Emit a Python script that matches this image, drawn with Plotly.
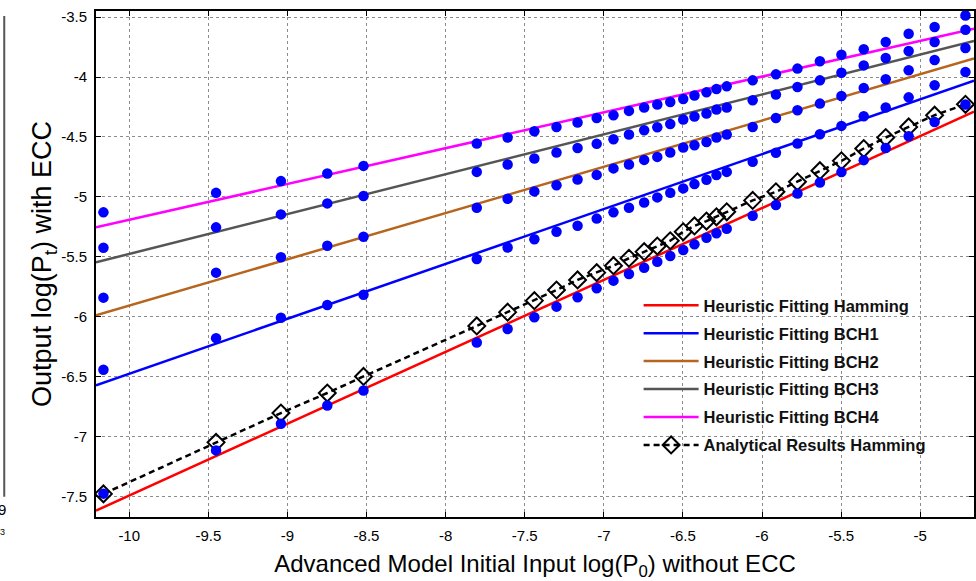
import plotly.graph_objects as go

# ---------------- data ----------------
x_p0 = [-10.163, -9.451, -9.041, -8.748, -8.519, -7.803, -7.608, -7.439, -7.299, -7.166,
        -7.045, -6.939, -6.841, -6.745, -6.662, -6.580, -6.498, -6.427, -6.351, -6.288,
        -6.223, -6.059, -5.912, -5.776, -5.634, -5.498, -5.357, -5.218, -5.073, -4.909, -4.714]

hamming_pts = [-7.478, -7.117, -6.894, -6.742, -6.617, -6.217, -6.103, -6.005, -5.917, -5.838,
               -5.763, -5.700, -5.644, -5.592, -5.542, -5.494, -5.444, -5.397, -5.342, -5.305,
               -5.267, -5.158, -5.069, -4.972, -4.880, -4.794, -4.694, -4.592, -4.494, -4.375, -4.230]
bch1_pts = [-6.444, -6.180, -6.010, -5.903, -5.817, -5.519, -5.423, -5.354, -5.292, -5.242,
            -5.182, -5.130, -5.092, -5.048, -5.005, -4.967, -4.930, -4.894, -4.857, -4.819,
            -4.792, -4.708, -4.633, -4.555, -4.478, -4.408, -4.328, -4.255, -4.170, -4.069, -3.958]
bch2_pts = [-5.842, -5.633, -5.505, -5.408, -5.333, -5.092, -5.017, -4.955, -4.903, -4.855,
            -4.817, -4.763, -4.730, -4.692, -4.667, -4.630, -4.588, -4.569, -4.542, -4.505,
            -4.480, -4.417, -4.342, -4.278, -4.222, -4.158, -4.092, -4.019, -3.944, -3.858, -3.758]
bch3_pts = [-5.425, -5.255, -5.147, -5.055, -4.994, -4.792, -4.730, -4.680, -4.630, -4.592,
            -4.558, -4.519, -4.480, -4.444, -4.419, -4.392, -4.355, -4.330, -4.305, -4.272,
            -4.255, -4.194, -4.147, -4.083, -4.028, -3.964, -3.903, -3.842, -3.783, -3.708, -3.605]
bch4_pts = [-5.130, -4.967, -4.869, -4.805, -4.742, -4.555, -4.505, -4.453, -4.417, -4.380,
            -4.342, -4.319, -4.283, -4.255, -4.230, -4.208, -4.183, -4.155, -4.128, -4.100,
            -4.078, -4.028, -3.978, -3.930, -3.869, -3.814, -3.769, -3.708, -3.639, -3.583, -3.486]
analytical_hamming = [-7.480, -7.050, -6.805, -6.638, -6.500, -6.078, -5.963, -5.867, -5.778, -5.694,
                      -5.633, -5.575, -5.513, -5.458, -5.411, -5.367, -5.292, -5.243, -5.203, -5.167,
                      -5.125, -5.030, -4.958, -4.875, -4.782, -4.700, -4.597, -4.505, -4.417, -4.319, -4.228]

# fitted lines (end points)
fit_x = [-10.21, -4.66]
fit_hamming = [-7.62, -4.29]
fit_bch1 = [-6.573, -4.03]
fit_bch2 = [-5.989, -3.846]
fit_bch3 = [-5.547, -3.700]
fit_bch4 = [-5.255, -3.596]

x_ticks = [-10, -9.5, -9, -8.5, -8, -7.5, -7, -6.5, -6, -5.5, -5]
x_tick_text = ["-10", "-9.5", "-9", "-8.5", "-8", "-7.5", "-7", "-6.5", "-6", "-5.5", "-5"]
y_ticks = [-7.5, -7, -6.5, -6, -5.5, -5, -4.5, -4, -3.5]
y_tick_text = ["-7.5", "-7", "-6.5", "-6", "-5.5", "-5", "-4.5", "-4", "-3.5"]

fit_names = ["Heuristic Fitting Hamming", "Heuristic Fitting BCH1", "Heuristic Fitting BCH2",
             "Heuristic Fitting BCH3", "Heuristic Fitting BCH4"]
fit_series = [fit_hamming, fit_bch1, fit_bch2, fit_bch3, fit_bch4]
fit_colors = ["#ff0000", "#0000ff", "#b5651d", "#555555", "#ff00ff"]
point_series = [bch4_pts, bch3_pts, bch2_pts, bch1_pts]

FONT = "Liberation Sans, Arial, Helvetica"

# ---------------- figure ----------------
fig = go.Figure()

for i, (name, ys, col) in enumerate(zip(fit_names, fit_series, fit_colors)):
    fig.add_trace(go.Scatter(x=fit_x, y=ys, mode="lines", name=name,
                             line=dict(color=col, width=2.5),
                             legendgroup=f"g{i}"))

for ys in point_series:
    fig.add_trace(go.Scatter(x=x_p0, y=ys, mode="markers", showlegend=False,
                             marker=dict(color="#0000ff", size=10.5, line=dict(width=0))))

fig.add_trace(go.Scatter(x=x_p0, y=analytical_hamming, mode="lines+markers",
                         name="Analytical Results Hamming", legendgroup="g5",
                         line=dict(color="black", width=2.5, dash="6px,4px"),
                         marker=dict(symbol="diamond-open", size=13, color="black",
                                     line=dict(width=2, color="black"))))

fig.add_trace(go.Scatter(x=x_p0, y=hamming_pts, mode="markers", showlegend=False,
                         marker=dict(color="#0000ff", size=10.5, line=dict(width=0))))

axis_common = dict(showline=True, linecolor="black", linewidth=2, mirror="ticks",
                   ticks="inside", ticklen=5, tickcolor="black", tickwidth=1,
                   showgrid=True, gridcolor="#8c8c8c", gridwidth=1, griddash="dot",
                   zeroline=False, tickfont=dict(family=FONT, size=15, color="black"))

fig.update_xaxes(range=[-10.21, -4.66], tickvals=x_ticks, ticktext=x_tick_text,
                 title=dict(text="Advanced Model Initial Input log(P<sub>0</sub>) without ECC",
                            font=dict(family=FONT, size=24, color="black"),
                            standoff=12),
                 ticklabelstandoff=4, **axis_common)
fig.update_yaxes(range=[-7.673, -3.449], tickvals=y_ticks, ticktext=y_tick_text,
                 title=dict(text="Output log(P<sub>t</sub>) with ECC",
                            font=dict(family=FONT, size=27, color="black"),
                            standoff=0),
                 ticklabelstandoff=4, **axis_common)

fig.update_layout(
    width=976, height=581,
    margin=dict(l=96, r=0, t=11, b=64),
    paper_bgcolor="white", plot_bgcolor="white",
    showlegend=True,
    legend=dict(x=0.618, y=0.4526, xanchor="left", yanchor="top",
                bgcolor="rgba(255,255,255,0)", borderwidth=0,
                font=dict(family=FONT, size=16.5, color="#111111", weight="bold"),
                traceorder="grouped", tracegroupgap=3.5, itemwidth=55),
)

# fragment of the neighbouring panel at the far left edge
fig.add_shape(type="line", xref="paper", yref="paper",
              x0=-0.1045, x1=-0.1045, y0=0.04, y1=0.99,
              line=dict(color="#555555", width=2))
fig.add_annotation(text="9", xref="paper", yref="paper", x=-0.107, y=0.015,
                   showarrow=False, xanchor="center", yanchor="middle",
                   font=dict(family=FONT, size=15, color="black"))
fig.add_annotation(text="3", xref="paper", yref="paper", x=-0.107, y=-0.03,
                   showarrow=False, xanchor="center", yanchor="middle",
                   font=dict(family=FONT, size=9, color="black"))

fig.write_html("out.html")
